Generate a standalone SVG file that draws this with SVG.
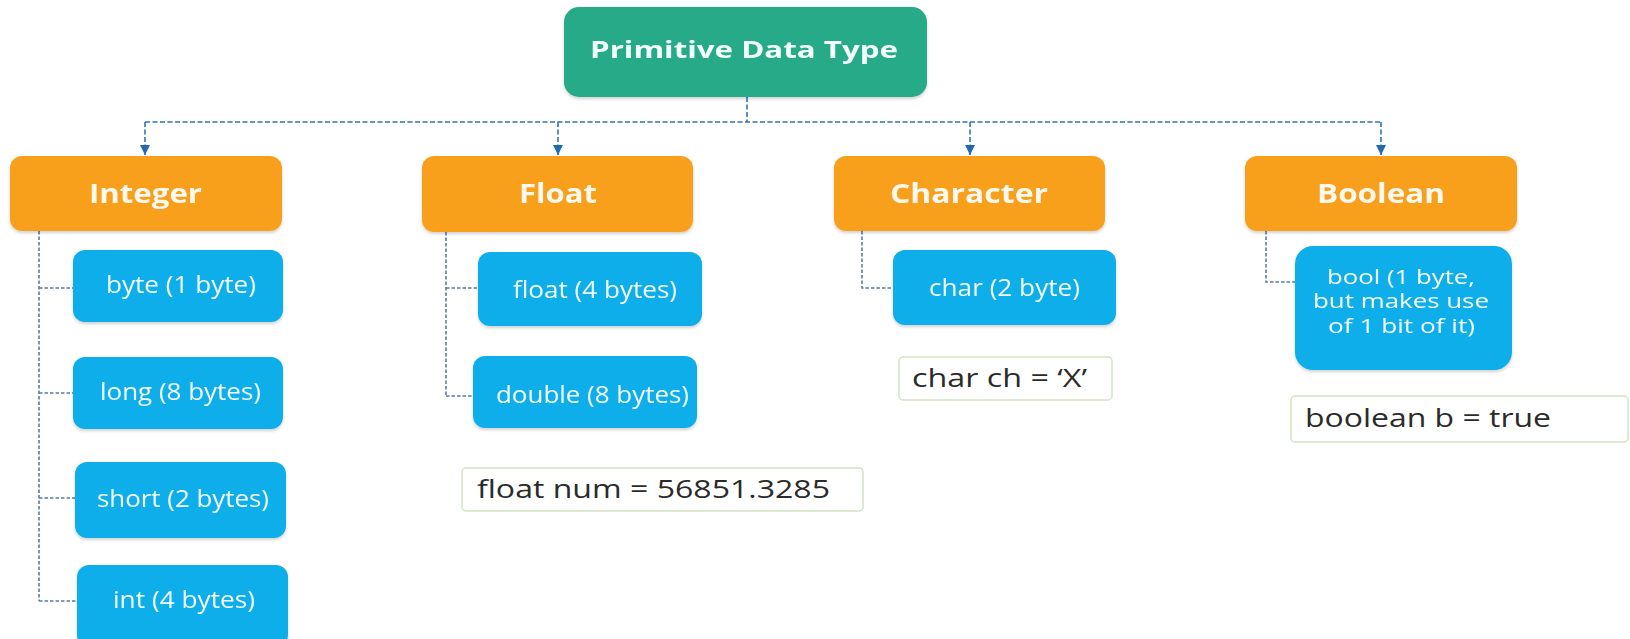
<svg xmlns="http://www.w3.org/2000/svg" width="1630" height="639" viewBox="0 0 1630 639">
  <defs>
    <style>
      .root { fill: #26aa88; }
      .cat { fill: #f8a01d; }
      .leaf { fill: #10aeea; }
      .code { fill: #ffffff; stroke: #d3e3c3; stroke-width: 1.5; }
      .t-root { font-family: "Open Sans", "Liberation Sans", sans-serif; font-weight: 700; font-size: 24px; fill: #f2fffa; }
      .t-cat { font-family: "Open Sans", "Liberation Sans", sans-serif; font-weight: 700; font-size: 26px; fill: #fff8ee; }
      .t-leaf { font-family: "Open Sans", "Liberation Sans", sans-serif; font-weight: 400; font-size: 23px; fill: #f4fbff; }
      .t-leaf2 { font-family: "Open Sans", "Liberation Sans", sans-serif; font-weight: 400; font-size: 20px; fill: #f4fbff; }
      .t-code { font-family: "Open Sans", "Liberation Sans", sans-serif; font-weight: 400; font-size: 26px; fill: #2b2b2b; }
      .main { fill: none; stroke: #2f73b8; stroke-width: 1.6; stroke-dasharray: 5 2.5; }
      .sub { fill: none; stroke: #5a7ba3; stroke-width: 1.6; stroke-dasharray: 3.5 2; }
    </style>
    <marker id="arr" markerUnits="userSpaceOnUse" markerWidth="10" markerHeight="12" refX="10" refY="5" orient="auto">
      <path d="M0,0 L10,5 L0,10 z" fill="#2468b0"/>
    </marker>
    <filter id="sh" x="-10%" y="-10%" width="120%" height="130%">
      <feDropShadow dx="0" dy="2" stdDeviation="1.8" flood-color="#000" flood-opacity="0.18"/>
    </filter>
  </defs>

  <rect width="1630" height="639" fill="#ffffff"/>

  <g id="connectors">
    <path class="main" d="M747,97 V122"/>
    <path class="main" d="M145,122 H1381"/>
    <path class="main" d="M145,122 V155" marker-end="url(#arr)"/>
    <path class="main" d="M558,122 V155" marker-end="url(#arr)"/>
    <path class="main" d="M970,122 V155" marker-end="url(#arr)"/>
    <path class="main" d="M1381,122 V155" marker-end="url(#arr)"/>
    <path class="sub" d="M39,231 V601 M39,288 H73 M39,393 H73 M39,498 H75 M39,601 H77"/>
    <path class="sub" d="M446,232 V396 M446,288 H478 M446,396 H473"/>
    <path class="sub" d="M862,231 V288 H893"/>
    <path class="sub" d="M1266,231 V282 H1295"/>
  </g>

  <g id="root" filter="url(#sh)">
    <rect class="root" x="564" y="7" width="363" height="90" rx="15"/>
    <text class="t-root" x="590" y="58" textLength="308" lengthAdjust="spacingAndGlyphs">Primitive Data Type</text>
  </g>

  <g id="integer" filter="url(#sh)">
    <rect class="cat" x="10" y="156" width="272" height="75" rx="12"/>
    <text class="t-cat" x="89" y="203" textLength="113" lengthAdjust="spacingAndGlyphs">Integer</text>
  </g>
  <g id="float" filter="url(#sh)">
    <rect class="cat" x="422" y="156" width="271" height="76" rx="12"/>
    <text class="t-cat" x="519" y="203" textLength="78" lengthAdjust="spacingAndGlyphs">Float</text>
  </g>
  <g id="character" filter="url(#sh)">
    <rect class="cat" x="834" y="156" width="271" height="75" rx="12"/>
    <text class="t-cat" x="890" y="203" textLength="158" lengthAdjust="spacingAndGlyphs">Character</text>
  </g>
  <g id="boolean" filter="url(#sh)">
    <rect class="cat" x="1245" y="156" width="272" height="75" rx="12"/>
    <text class="t-cat" x="1317" y="203" textLength="128" lengthAdjust="spacingAndGlyphs">Boolean</text>
  </g>

  <g id="byte" filter="url(#sh)">
    <rect class="leaf" x="73" y="250" width="210" height="72" rx="12"/>
    <text class="t-leaf" x="106" y="293" textLength="150" lengthAdjust="spacingAndGlyphs">byte (1 byte)</text>
  </g>
  <g id="long" filter="url(#sh)">
    <rect class="leaf" x="73" y="357" width="210" height="72" rx="12"/>
    <text class="t-leaf" x="100" y="400" textLength="161" lengthAdjust="spacingAndGlyphs">long (8 bytes)</text>
  </g>
  <g id="short" filter="url(#sh)">
    <rect class="leaf" x="75" y="462" width="211" height="76" rx="12"/>
    <text class="t-leaf" x="97" y="507" textLength="172" lengthAdjust="spacingAndGlyphs">short (2 bytes)</text>
  </g>
  <g id="int" filter="url(#sh)">
    <rect class="leaf" x="77" y="565" width="211" height="82" rx="12"/>
    <text class="t-leaf" x="113" y="608" textLength="142" lengthAdjust="spacingAndGlyphs">int (4 bytes)</text>
  </g>

  <g id="float4" filter="url(#sh)">
    <rect class="leaf" x="478" y="252" width="224" height="74" rx="12"/>
    <text class="t-leaf" x="513" y="298" textLength="164" lengthAdjust="spacingAndGlyphs">float (4 bytes)</text>
  </g>
  <g id="double" filter="url(#sh)">
    <rect class="leaf" x="473" y="356" width="224" height="72" rx="12"/>
    <text class="t-leaf" x="496" y="403" textLength="193" lengthAdjust="spacingAndGlyphs">double (8 bytes)</text>
  </g>
  <g id="float-example">
    <rect class="code" x="462" y="468" width="401" height="43" rx="4"/>
    <text class="t-code" x="477" y="498" textLength="353" lengthAdjust="spacingAndGlyphs">float num = 56851.3285</text>
  </g>

  <g id="char" filter="url(#sh)">
    <rect class="leaf" x="893" y="250" width="223" height="75" rx="12"/>
    <text class="t-leaf" x="929" y="296" textLength="151" lengthAdjust="spacingAndGlyphs">char (2 byte)</text>
  </g>
  <g id="char-example">
    <rect class="code" x="899" y="357" width="213" height="43" rx="4"/>
    <text class="t-code" x="912" y="387" textLength="175" lengthAdjust="spacingAndGlyphs">char ch = ‘X’</text>
  </g>

  <g id="bool" filter="url(#sh)">
    <rect class="leaf" x="1295" y="246" width="217" height="124" rx="18"/>
    <text class="t-leaf2" x="1327" y="284" textLength="148" lengthAdjust="spacingAndGlyphs">bool (1 byte,</text>
    <text class="t-leaf2" x="1313" y="308" textLength="176" lengthAdjust="spacingAndGlyphs">but makes use</text>
    <text class="t-leaf2" x="1328" y="333" textLength="147" lengthAdjust="spacingAndGlyphs">of 1 bit of it)</text>
  </g>
  <g id="bool-example">
    <rect class="code" x="1291" y="396" width="337" height="46" rx="4"/>
    <text class="t-code" x="1305" y="427" textLength="246" lengthAdjust="spacingAndGlyphs">boolean b = true</text>
  </g>
</svg>
